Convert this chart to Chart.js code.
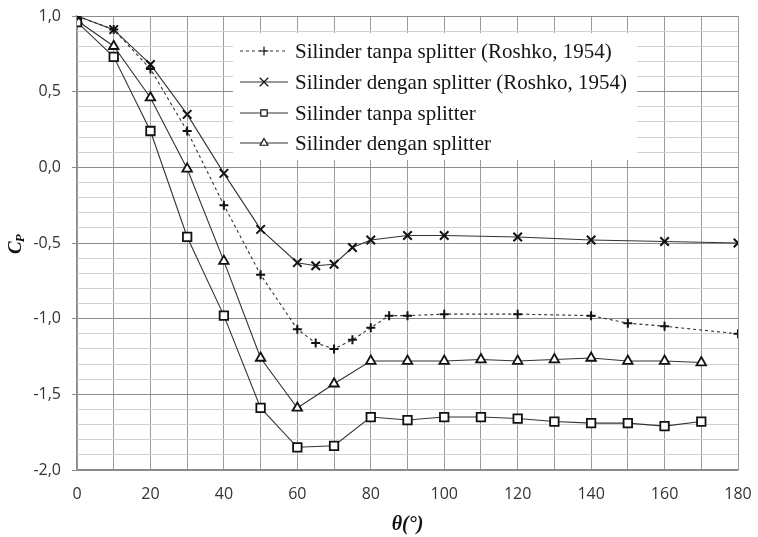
<!DOCTYPE html>
<html>
<head>
<meta charset="utf-8" />
<title>Distribusi Cp</title>
<script src="https://cdn.jsdelivr.net/npm/chart.js@4.4.0/dist/chart.umd.min.js"></script>
<style>
  body { margin: 0; background: #fff; }
  .container { width: 758px; height: 537px; }
</style>
</head>
<body>
<div class="container"><canvas id="cpChart"></canvas></div>
<script>
// Roshko (1954) reference data
const thetaRoshkoTanpa = [0, 10, 20, 30, 40, 50, 60, 65, 70, 75, 80, 85, 90, 100, 120, 140, 150, 160, 180];
const cpRoshkoTanpa = [1.00, 0.91, 0.65, 0.24, -0.25, -0.71, -1.07, -1.16, -1.20, -1.14, -1.06, -0.98, -0.98, -0.97, -0.97, -0.98, -1.03, -1.05, -1.10];

const thetaRoshkoDengan = [0, 10, 20, 30, 40, 50, 60, 65, 70, 75, 80, 90, 100, 120, 140, 160, 180];
const cpRoshkoDengan = [1.00, 0.91, 0.68, 0.35, -0.04, -0.41, -0.63, -0.65, -0.64, -0.53, -0.48, -0.45, -0.45, -0.46, -0.48, -0.49, -0.50];

// measured data
const thetaUji = [0, 10, 20, 30, 40, 50, 60, 70, 80, 90, 100, 110, 120, 130, 140, 150, 160, 170];
const cpTanpa = [0.96, 0.73, 0.24, -0.46, -0.98, -1.59, -1.85, -1.84, -1.65, -1.67, -1.65, -1.65, -1.66, -1.68, -1.69, -1.69, -1.71, -1.68];
const cpDengan = [0.97, 0.80, 0.46, -0.01, -0.62, -1.26, -1.59, -1.43, -1.28, -1.28, -1.28, -1.27, -1.28, -1.27, -1.26, -1.28, -1.28, -1.29];

const seriesNames = [
  'Silinder tanpa splitter (Roshko, 1954)',
  'Silinder dengan splitter (Roshko, 1954)',
  'Silinder tanpa splitter',
  'Silinder dengan splitter'
];

function pairs(xs, ys) {
  return xs.map((x, i) => ({ x: x, y: ys[i] }));
}

function koma(v) {
  return (Math.round(v * 10) / 10).toFixed(1).replace('.', ',');
}

function isMajor(v) {
  return Math.abs(Math.round(v * 10) % 5) === 0;
}

const lineColor = '#333';
const markColor = '#111';

const datasets = [
  {
    label: seriesNames[0],
    data: pairs(thetaRoshkoTanpa, cpRoshkoTanpa),
    borderColor: lineColor, borderWidth: 1.1, borderDash: [3, 3],
    pointStyle: 'cross', pointRadius: 4.5, pointBorderWidth: 2,
    pointBorderColor: markColor, pointBackgroundColor: markColor
  },
  {
    label: seriesNames[1],
    data: pairs(thetaRoshkoDengan, cpRoshkoDengan),
    borderColor: lineColor, borderWidth: 1.1,
    pointStyle: 'crossRot', pointRadius: 6, pointBorderWidth: 2,
    pointBorderColor: markColor, pointBackgroundColor: markColor
  },
  {
    label: seriesNames[2],
    data: pairs(thetaUji, cpTanpa),
    borderColor: lineColor, borderWidth: 1.1,
    pointStyle: 'rect', pointRadius: 6, pointBorderWidth: 1.8,
    pointBorderColor: markColor, pointBackgroundColor: '#fff'
  },
  {
    label: seriesNames[3],
    data: pairs(thetaUji, cpDengan),
    borderColor: lineColor, borderWidth: 1.1,
    pointStyle: 'triangle', pointRadius: 5.5, pointBorderWidth: 1.8,
    pointBorderColor: markColor, pointBackgroundColor: '#fff'
  }
];

// legend drawn inside the plot on a white box, Excel style
const insideLegend = {
  id: 'insideLegend',
  beforeDatasetsDraw(chart) {
    const ctx = chart.ctx;
    ctx.save();
    ctx.fillStyle = '#fff';
    ctx.fillRect(233, 33, 404, 127);
    ctx.restore();
  },
  afterDatasetsDraw(chart) {
    const ctx = chart.ctx;
    const rows = [51, 82, 113, 143];
    ctx.save();
    chart.data.datasets.forEach((ds, i) => {
      const y = rows[i];
      ctx.strokeStyle = ds.borderColor;
      ctx.lineWidth = 1.1;
      ctx.setLineDash(ds.borderDash || []);
      ctx.beginPath();
      ctx.moveTo(240, y);
      ctx.lineTo(288, y);
      ctx.stroke();
      ctx.setLineDash([]);
      ctx.strokeStyle = ds.pointBorderColor;
      ctx.fillStyle = ds.pointBackgroundColor;
      ctx.lineWidth = 1.2;
      Chart.helpers.drawPoint(ctx, {
        pointStyle: ds.pointStyle,
        radius: ds.pointStyle === 'crossRot' ? 6 : 4.5,
        borderWidth: 1.2,
        rotation: 0
      }, 264, y);
      ctx.fillStyle = '#151515';
      ctx.font = '21px "Liberation Serif", "Times New Roman", serif';
      ctx.textAlign = 'left';
      ctx.textBaseline = 'middle';
      ctx.fillText(ds.label, 295, y + 1);
    });
    ctx.restore();
  },
  afterDraw(chart) {
    // y axis title C with subscript P, rotated
    const ctx = chart.ctx;
    ctx.save();
    ctx.translate(21, 254);
    ctx.rotate(-Math.PI / 2);
    ctx.fillStyle = '#111';
    ctx.textBaseline = 'alphabetic';
    ctx.textAlign = 'left';
    ctx.font = 'italic bold 19px "Liberation Serif", serif';
    ctx.fillText('C', 0, 0);
    const w = ctx.measureText('C').width;
    ctx.font = 'italic bold 13px "Liberation Serif", serif';
    ctx.fillText('P', w - 1, 3);
    ctx.restore();
  }
};

const ctx = document.getElementById('cpChart').getContext('2d');
new Chart(ctx, {
  type: 'line',
  data: { datasets: datasets },
  options: {
    responsive: true,
    maintainAspectRatio: false,
    animation: false,
    layout: { padding: { left: 0, right: 20, top: 16, bottom: 0 } },
    plugins: {
      legend: { display: false },
      tooltip: { enabled: false }
    },
    scales: {
      x: {
        type: 'linear',
        min: 0, max: 180,
        afterFit(scale) {
          scale.height = 67;
          scale.paddingLeft = 0;
          scale.paddingRight = 0;
        },
        ticks: {
          stepSize: 10,
          autoSkip: false,
          maxRotation: 0,
          padding: 15,
          color: '#333',
          font: { family: '"Open Sans", sans-serif', size: 16 },
          callback: (v) => (v % 20 === 0 ? String(v) : '')
        },
        grid: { color: '#9c9c9c', lineWidth: 1, drawTicks: false },
        border: { color: '#8c8c8c', width: 1.2 },
        title: {
          display: true,
          text: 'θ(°)',
          color: '#111',
          padding: { top: 7, bottom: 0 },
          font: { family: '"Liberation Serif", serif', size: 20, style: 'italic', weight: 'bold' }
        }
      },
      y: {
        min: -2, max: 1,
        afterFit(scale) {
          scale.width = 77;
          scale.paddingTop = 0;
          scale.paddingBottom = 0;
        },
        ticks: {
          stepSize: 0.1,
          autoSkip: false,
          padding: 11,
          color: '#333',
          font: { family: '"Open Sans", sans-serif', size: 16 },
          callback: (v) => (isMajor(v) ? koma(v) : '')
        },
        grid: {
          lineWidth: 1,
          tickLength: 5,
          color: (c) => (isMajor(c.tick.value) ? '#8c8c8c' : '#d0d0d0'),
          tickColor: (c) => (isMajor(c.tick.value) ? '#8c8c8c' : 'rgba(0,0,0,0)')
        },
        border: { color: '#8c8c8c', width: 1.2 }
      }
    }
  },
  plugins: [insideLegend]
});
</script>
</body>
</html>
